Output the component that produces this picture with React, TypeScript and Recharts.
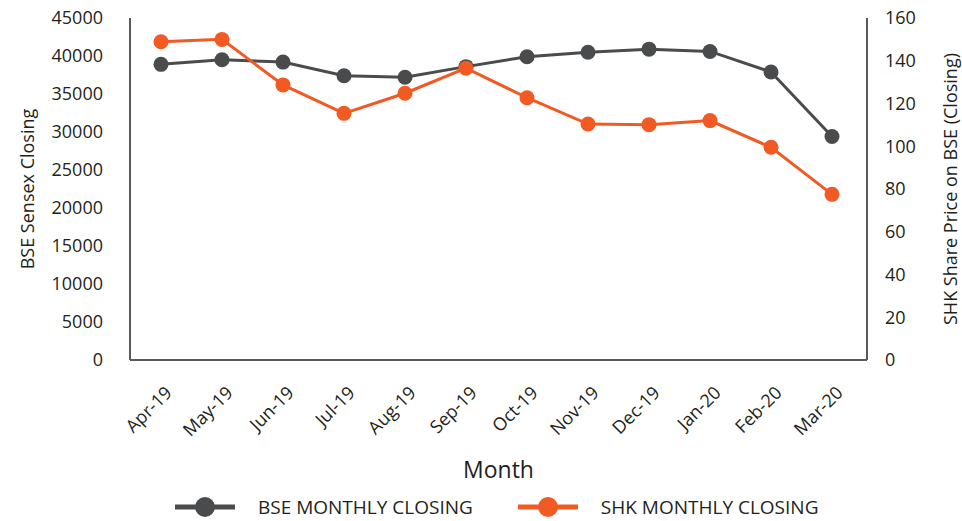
import React from "react";
import { LineChart, Line, XAxis, YAxis, Legend } from "recharts";

const months = ["Apr-19", "May-19", "Jun-19", "Jul-19", "Aug-19", "Sep-19", "Oct-19", "Nov-19", "Dec-19", "Jan-20", "Feb-20", "Mar-20"];
const bseClosing = [38900, 39500, 39200, 37400, 37200, 38600, 39900, 40500, 40900, 40600, 37900, 29400];
const shkClosing = [148.9, 150, 128.7, 115.4, 124.8, 136.5, 122.7, 110.4, 110.1, 112, 99.5, 77.5];
const leftTicks = [0, 5000, 10000, 15000, 20000, 25000, 30000, 35000, 40000, 45000];
const rightTicks = [0, 20, 40, 60, 80, 100, 120, 140, 160];

const data = months.map((m, i) => ({ month: m, bse: bseClosing[i], shk: shkClosing[i] }));

const FONT = "'Open Sans', 'Noto Sans', sans-serif";
const TEXT = "#231f20";
const AXIS = "#58595b";
const BSE_COLOR = "#4a4b4d";
const SHK_COLOR = "#f15a22";

const XTick = (props: any) => {
  const { x, y, payload } = props;
  return (
    <g transform={`translate(${x + 12},${y + 34})`}>
      <text x={0} y={0} transform="rotate(-45)" textAnchor="end" fill={TEXT} fontSize={18} fontFamily={FONT}>
        {payload.value}
      </text>
    </g>
  );
};

const LegendItem = ({ color, label }: { color: string; label: string }) => (
  <div style={{ display: "flex", alignItems: "center" }}>
    <svg width={60} height={24}>
      <line x1={0} y1={12} x2={60} y2={12} stroke={color} strokeWidth={5} />
      <circle cx={30} cy={12} r={10} fill={color} />
    </svg>
    <span style={{ marginLeft: 23, fontSize: 19, color: TEXT, fontFamily: FONT, whiteSpace: "nowrap" }}>{label}</span>
  </div>
);

const renderLegend = () => (
  <div style={{ display: "flex", alignItems: "center", height: 28, paddingLeft: 175, gap: 45 }}>
    <LegendItem color={BSE_COLOR} label="BSE MONTHLY CLOSING" />
    <LegendItem color={SHK_COLOR} label="SHK MONTHLY CLOSING" />
  </div>
);

export default function App() {
  return (
    <div style={{ position: "absolute", left: 0, top: 0, fontFamily: FONT }}>
      <LineChart width={962} height={521} data={data} margin={{ top: 18, right: 0, left: 0, bottom: 0 }}>
        <XAxis
          dataKey="month"
          scale="point"
          padding={{ left: 31, right: 35 }}
          height={133}
          tickSize={0}
          tickMargin={0}
          tickLine={false}
          axisLine={{ stroke: AXIS, strokeWidth: 2 }}
          tick={<XTick />}
          interval={0}
          label={(p: any) => {
            const vb = p.viewBox;
            return (
              <text x={vb.x + vb.width / 2} y={vb.y + 118} textAnchor="middle" fill={TEXT} fontSize={23} fontFamily={FONT}>
                Month
              </text>
            );
          }}
        />
        <XAxis xAxisId="top" dataKey="month" orientation="top" height={0} tick={false} tickLine={false} axisLine={{ stroke: AXIS, strokeWidth: 2 }} />
        <YAxis
          yAxisId="left"
          width={130}
          domain={[0, 45000]}
          ticks={leftTicks}
          tickLine={false}
          tickMargin={21}
          axisLine={{ stroke: AXIS, strokeWidth: 2 }}
          tick={{ fill: TEXT, fontSize: 18, fontFamily: FONT }}
          label={(p: any) => {
            const vb = p.viewBox;
            const cx = vb.x + 27;
            const cy = vb.y + vb.height / 2;
            return (
              <text x={cx} y={cy} transform={`rotate(-90, ${cx}, ${cy})`} textAnchor="middle" dominantBaseline="central" fill={TEXT} fontSize={18} fontFamily={FONT}>
                BSE Sensex Closing
              </text>
            );
          }}
        />
        <YAxis
          yAxisId="right"
          orientation="right"
          width={95}
          domain={[0, 160]}
          ticks={rightTicks}
          tickLine={false}
          tickMargin={12}
          axisLine={{ stroke: AXIS, strokeWidth: 2 }}
          tick={{ fill: TEXT, fontSize: 18, fontFamily: FONT }}
          label={(p: any) => {
            const vb = p.viewBox;
            const cx = vb.x + 83;
            const cy = vb.y + vb.height / 2;
            return (
              <text x={cx} y={cy} transform={`rotate(-90, ${cx}, ${cy})`} textAnchor="middle" dominantBaseline="central" fill={TEXT} fontSize={18} fontFamily={FONT}>
                SHK Share Price on BSE (Closing)
              </text>
            );
          }}
        />
        <Legend verticalAlign="bottom" content={renderLegend} />
        <Line
          yAxisId="left"
          type="linear"
          dataKey="bse"
          name="BSE MONTHLY CLOSING"
          stroke={BSE_COLOR}
          strokeWidth={3}
          dot={{ r: 7.5, fill: BSE_COLOR, stroke: "none" }}
          isAnimationActive={false}
        />
        <Line
          yAxisId="right"
          type="linear"
          dataKey="shk"
          name="SHK MONTHLY CLOSING"
          stroke={SHK_COLOR}
          strokeWidth={3}
          dot={{ r: 7.5, fill: SHK_COLOR, stroke: "none" }}
          isAnimationActive={false}
        />
      </LineChart>
    </div>
  );
}
